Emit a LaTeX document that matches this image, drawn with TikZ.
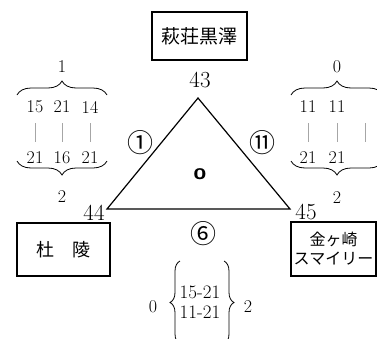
\documentclass[tikz,border=0pt]{standalone}
\usepackage{fontspec}
\newfontfamily\jpfont{Noto Sans CJK JP}
\usetikzlibrary{decorations.pathreplacing}

\begin{document}
\begin{tikzpicture}[x=1pt,y=1pt,
    score/.style={inner sep=0pt,font=\fontsize{18}{21}\selectfont},
    vertex/.style={inner sep=0pt,font=\fontsize{23}{26}\selectfont},
    circnum/.style={inner sep=0pt,font=\jpfont\fontsize{26}{28}\selectfont},
    team/.style={draw,line width=2.2pt,inner sep=0pt,align=center},
    bar/.style={gray!70,line width=0.9pt,shorten <=10pt,shorten >=10pt},
    cbrace/.style={decorate,decoration={brace,amplitude=#1},line width=0.8pt},
    cbrace/.default=14pt]

    \useasboundingbox (0,0) rectangle (377,-338);

    \node[draw,line width=1.2pt,minimum width=95pt,minimum height=48pt,
      font=\jpfont\fontsize{19}{22}\selectfont] (H) at (199.5,-36) {萩荘黒澤};
    \node[team,minimum width=93pt,minimum height=53pt,
      font=\jpfont\fontsize{18}{21}\selectfont] (M) at (63.5,-249.5) {杜　陵};
    \node[team,minimum width=85pt,minimum height=54pt,
      font=\jpfont\fontsize{16}{19}\selectfont] (K) at (333.5,-249) {金ヶ崎\\スマイリー};

    \coordinate (T) at (198,-98);
    \coordinate (L) at (107,-209);
    \coordinate (R) at (290,-209);
    \draw[line width=1.2pt] (T) -- (L) -- (R) -- cycle;

    \node[vertex] (vT) at (200,-80) {43};
    \node[vertex] (vL) at (94,-212.5) {44};
    \node[vertex] (vR) at (306,-212) {45};
    \node[font=\sffamily\bfseries\fontsize{23}{25}\selectfont] (O) at (200,-174) {o};

    \node[circnum] (gHM) at (140,-143) {①};
    \node[circnum] (gHK) at (262,-143) {⑪};
    \node[circnum] (gMK) at (203,-234) {⑥};

    \node[score] (a1) at (35,-107) {15};
    \node[score] (a2) at (62,-107) {21};
    \node[score] (a3) at (90,-107) {14};
    \node[score] (b1) at (35,-158) {21};
    \node[score] (b2) at (62,-158) {16};
    \node[score] (b3) at (90,-158) {21};
    \foreach \i in {1,2,3} \draw[bar] (a\i) -- (b\i);
    \draw[cbrace] (17,-95) -- (107,-95);
    \draw[cbrace] (107,-161) -- (17,-161);
    \node[score] (aW) at (62,-67) {1};
    \node[score] (bW) at (62,-197) {2};

    \node[score] (c1) at (308,-107) {11};
    \node[score] (c2) at (337,-107) {11};
    \node[score] (c3) at (365,-107) {\phantom{11}};
    \node[score] (d1) at (308,-158) {21};
    \node[score] (d2) at (337,-158) {21};
    \node[score] (d3) at (365,-158) {\phantom{21}};
    \foreach \i in {1,2,3} \draw[bar] (c\i) -- (d\i);
    \draw[cbrace] (291,-95) -- (383,-95);
    \draw[cbrace] (383,-161) -- (291,-161);
    \node[score] (cW) at (337,-67) {0};
    \node[score] (dW) at (337,-198) {2};

    \node[score,font=\fontsize{19}{22}\selectfont] (e1) at (200,-292) {15-21};
    \node[score,font=\fontsize{19}{22}\selectfont] (e2) at (200,-312) {11-21};
    \draw[cbrace=10pt] (180,-344) -- (180,-261);
    \draw[cbrace=10pt] (224,-261) -- (224,-344);
    \node[score] (eL) at (153,-307) {0};
    \node[score] (eR) at (248,-307) {2};
\end{tikzpicture}
\end{document}
